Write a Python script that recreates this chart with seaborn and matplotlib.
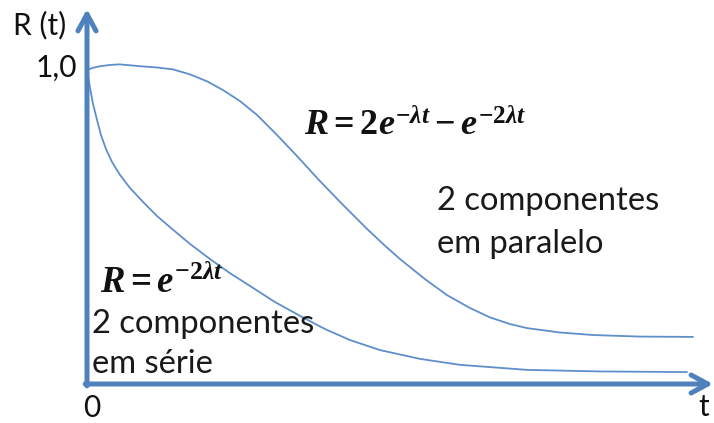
import matplotlib
matplotlib.use("Agg")
import matplotlib.pyplot as plt
import seaborn as sns
import pandas as pd

# Reliability curves R(t) for two components (time in arbitrary units)
t_parallel = [0.0, 0.1, 0.217, 0.383, 0.533, 0.717, 0.883, 1.167, 1.433, 1.717,
              2.0, 2.267, 2.55, 2.833, 3.167, 3.5, 3.883, 4.217, 4.667, 4.967,
              5.217, 5.633, 6.0, 6.383, 6.717, 7.05, 7.333, 7.883, 8.433, 9.217,
              10.1]
r_parallel = [1.0, 1.007, 1.012, 1.016, 1.018, 1.015, 1.012, 1.008, 1.002, 0.986,
              0.964, 0.936, 0.901, 0.857, 0.793, 0.726, 0.646, 0.580, 0.494,
              0.440, 0.398, 0.334, 0.283, 0.242, 0.212, 0.191, 0.178, 0.164,
              0.156, 0.151, 0.150]

t_series = [0.0, 0.05, 0.1, 0.167, 0.233, 0.317, 0.417, 0.55, 0.717, 0.933, 1.167,
            1.417, 1.717, 2.05, 2.383, 2.767, 3.133, 3.55, 3.967, 4.383, 4.883,
            5.55, 6.217, 7.333, 8.55, 10.0]
r_series = [1.0, 0.943, 0.892, 0.841, 0.793, 0.748, 0.707, 0.666, 0.624, 0.580,
            0.535, 0.494, 0.446, 0.398, 0.353, 0.306, 0.261, 0.217, 0.175, 0.140,
            0.108, 0.080, 0.061, 0.045, 0.040, 0.038]

y_tick_label = "1,0"
y_axis_label = "R (t)"
x_tick_label = "0"
x_axis_label = "t"
parallel_formula = r"$R = 2e^{-\lambda t} - e^{-2\lambda t}$"
series_formula = r"$R = e^{-2\lambda t}$"
parallel_lines = ["2 componentes", "em paralelo"]
series_lines = ["2 componentes", "em série"]

sns.set_theme(style="white")
plt.rcParams["font.family"] = ["Lato", "DejaVu Sans"]
plt.rcParams["mathtext.fontset"] = "custom"
plt.rcParams["mathtext.it"] = "Liberation Serif:italic:bold"
plt.rcParams["mathtext.rm"] = "Liberation Serif:bold"
plt.rcParams["mathtext.bf"] = "Liberation Serif:bold"

W, H = 714, 423
fig = plt.figure(figsize=(W / 100, H / 100), dpi=100)
ax = fig.add_axes([0, 0, 1, 1])

# pixel frame: origin at (87, 384), 60 px per time unit, 314 px per unit of R
x0, y0, sx, sy = 87, 384, 60.0, 314.0
ax.set_xlim(-x0 / sx, (W - x0) / sx)
ax.set_ylim(-(H - y0) / sy, y0 / sy)
ax.axis("off")

blue = "#4F81BD"
curve = "#5F8FCB"
ink = "#111111"

df_p = pd.DataFrame({"t": t_parallel, "R": r_parallel})
df_s = pd.DataFrame({"t": t_series, "R": r_series})
for df in (df_p, df_s):
    sns.lineplot(data=df, x="t", y="R", ax=ax, color=curve, lw=1.3,
                 sort=False, estimator=None)

# axes drawn as arrows
arrow = dict(arrowstyle="->,head_length=1.2,head_width=0.65", lw=3.6,
             color=blue, shrinkA=0, shrinkB=0, mutation_scale=10)
ax.annotate("", xy=(0, (y0 - 9) / sy), xytext=(0, -0.006), arrowprops=arrow)
ax.annotate("", xy=((713 - x0) / sx, 0), xytext=(-0.03, 0), arrowprops=arrow)


def px(x, y):
    return x / W, 1 - y / H


fig.text(*px(13, 25), y_axis_label, fontsize=21.5, ha="left", va="center",
         color=ink)
fig.text(*px(77, 68), y_tick_label, fontsize=21.5, ha="right", va="center",
         color=ink)
fig.text(*px(92, 408), x_tick_label, fontsize=21.5, ha="center", va="center",
         color=ink)
fig.text(*px(704, 407), x_axis_label, fontsize=21.5, ha="center", va="center",
         color=ink)

fig.text(*px(304, 135), parallel_formula, fontsize=26, ha="left",
         va="baseline", color=ink)
fig.text(*px(100, 293), series_formula, fontsize=26.5, ha="left",
         va="baseline", color=ink)

for i, line in enumerate(parallel_lines):
    fig.text(*px(437, 210 + 43 * i), line, fontsize=23.6, ha="left",
             va="baseline", color="#1a1a1a")
for i, line in enumerate(series_lines):
    fig.text(*px(92, 333 + 40 * i), line, fontsize=23.6, ha="left",
             va="baseline", color="#1a1a1a")

fig.savefig("out.png", dpi=100)
